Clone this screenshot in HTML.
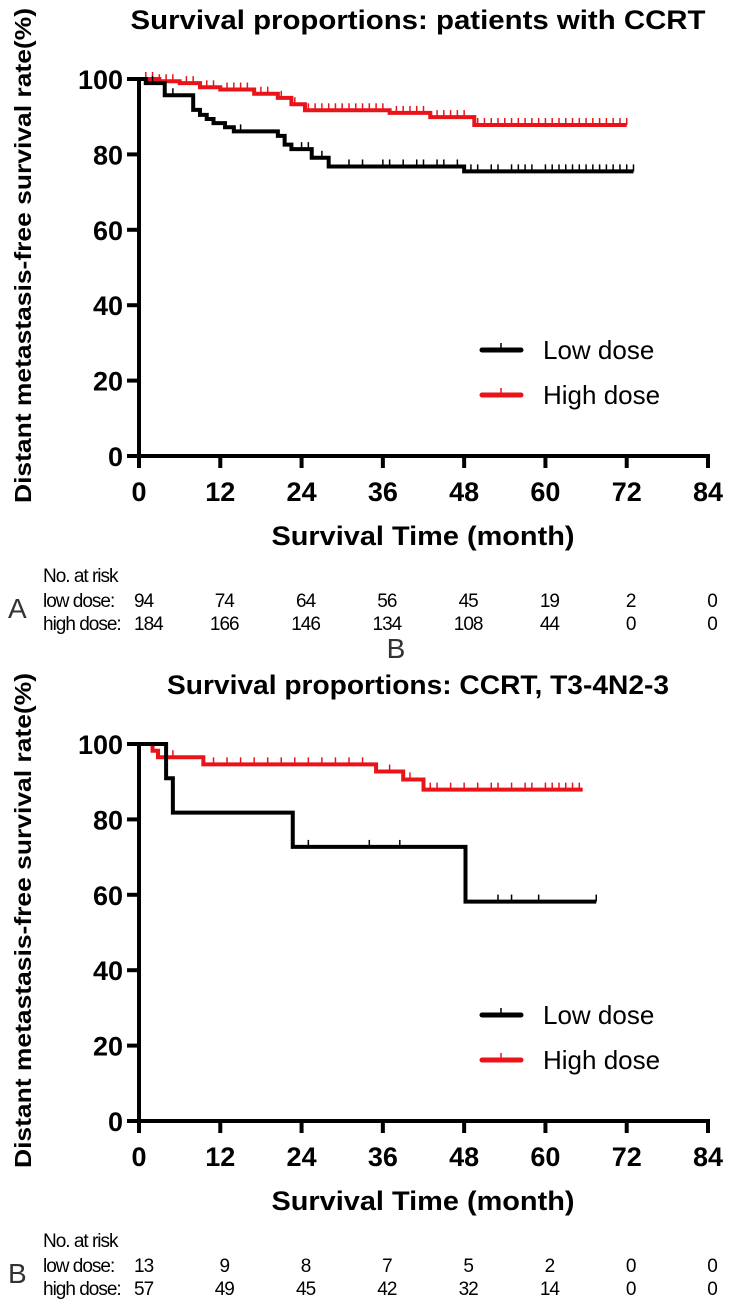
<!DOCTYPE html>
<html><head><meta charset="utf-8"><style>
html,body{margin:0;padding:0;background:#fff;}
svg{display:block;font-family:"Liberation Sans",Arial,sans-serif;}
</style></head><body>
<svg id="fig" width="729" height="1313" viewBox="0 0 729 1313"></svg>
<script>
// ---------- data ----------
const xTicks = [0,12,24,36,48,60,72,84];
const yTicks = [0,20,40,60,80,100];
// Panel A
const lowA_t = [0,1,3.8,8,9,10,11,12.7,14,20.5,21.5,22.5,25.5,28,48];
const lowA_s = [100,98.9,95.7,91.8,90.5,89.4,88.3,87.2,86.1,84.9,82.6,81.4,79.1,76.8,75.5];
const lowA_end = 73;
const lowA_cens = [2,5,15,24,25,27,31,33,36,37,39,41,42,44,45,47,49,50,52,53,55,56,57,58,60,61,62,63,64,65,66,67,68,69,70,71,72,73];
const highA_t = [0,3,6,9,12,17,20.5,22.5,24.5,37,43,49.5];
const highA_s = [100,99.4,98.9,97.8,97.2,96.1,95,93.3,91.7,91,89.9,87.8];
const highA_end = 72;
const highA_cens = [1,2,3,4,5,7,8,10,11,13,14,15,16,18,19,21,23,25,26,27,28,29,30,31,32,33,34,35,36,38,39,40,41,42,44,45,46,47,48,50,51,52,53,54,55,56,57,58,59,60,61,62,63,64,65,66,67,68,69,70,71,72];
const riskA_low = ["94","74","64","56","45","19","2","0"];
const riskA_high = ["184","166","146","134","108","44","0","0"];
// Panel B
const lowB_t = [0,4,5,22.7,48.2];
const lowB_s = [100,90.9,81.8,72.7,58.2];
const lowB_end = 67.5;
const lowB_cens = [25,34,38.5,53,55,59,67.5];
const highB_t = [0,2,2.8,9.5,35,39,42];
const highB_s = [100,98.2,96.5,94.6,92.7,90.6,87.9];
const highB_end = 65.5;
const highB_cens = [3,4,5,11,13,15,17,19,21,23,25,27,29,31,33,37,40,43,44,46,48,50,52,53,55,57,58,60,61,62,63,64,65];
const riskB_low = ["13","9","8","7","5","2","0","0"];
const riskB_high = ["57","49","45","42","32","14","0","0"];

const NS = "http://www.w3.org/2000/svg";
const svg = document.getElementById("fig");
function mk(tag, attrs, parent, txt){
  const e = document.createElementNS(NS, tag);
  for (const k in attrs) e.setAttribute(k, attrs[k]);
  if (txt !== undefined) e.textContent = txt;
  (parent||svg).appendChild(e);
  return e;
}

function panel(off, title, titleLen, xTitle, lowT, lowS, lowEnd, lowC, highT, highS, highEnd, highC, rLow, rHigh, letter, pname){
  const g = mk("g", {});
  
  
  const X0 = 139, X1 = 708, Y100 = 79 + off, Y0 = 456 + off;
  const sx = t => X0 + (t/84)*(X1-X0);
  const sy = v => Y0 - (v/100)*(Y0-Y100);

  const t1 = mk("text", {x:418, y:29+off, "text-anchor":"middle", "font-size":27, "font-weight":"bold", textLength:titleLen, lengthAdjust:"spacingAndGlyphs"}, g, title);
  
  

  const yt = mk("text", {transform:`translate(31,${(Y0+Y100)/2 - 12}) rotate(-90)`, "text-anchor":"middle", "font-size":23, "font-weight":"bold", textLength:495, lengthAdjust:"spacingAndGlyphs"}, g, "Distant metastasis-free survival rate(%)");
  
  

  const ax = mk("path", {d:`M${X0},${Y100-2} V${Y0} H${X1+2}`, stroke:"#000", "stroke-width":4, fill:"none"}, g);
  
  
  yTicks.forEach(v=>{
    const tk = mk("line", {x1:X0-12, x2:X0, y1:sy(v), y2:sy(v), stroke:"#000", "stroke-width":4}, g);
    
    
    const lb = mk("text", {x:X0-16, y:sy(v)+10, "text-anchor":"end", "font-size":27, "font-weight":"bold"}, g, String(v));
    
    
  });
  xTicks.forEach(v=>{
    const tk = mk("line", {x1:sx(v), x2:sx(v), y1:Y0, y2:Y0+12, stroke:"#000", "stroke-width":4}, g);
    
    
    const lb = mk("text", {x:sx(v), y:Y0+45, "text-anchor":"middle", "font-size":27, "font-weight":"bold"}, g, String(v));
    
    
  });
  const xt = mk("text", {x:423, y:Y0+89, "text-anchor":"middle", "font-size":27, "font-weight":"bold", textLength:303, lengthAdjust:"spacingAndGlyphs"}, g, xTitle);
  
  

  function curve(T, S, end, C, color, name){
    let d = `M${sx(T[0])},${sy(S[0])}`;
    for (let i=1;i<T.length;i++){ d += ` H${sx(T[i])} V${sy(S[i])}`; }
    d += ` H${sx(end)}`;
    const p = mk("path", {d, stroke:color, "stroke-width":4, fill:"none", "stroke-linejoin":"miter"}, g);
    
    
    C.forEach(c=>{
      let v = S[0];
      for (let i=0;i<T.length;i++) if (T[i] <= c) v = S[i];
      const m = mk("line", {x1:sx(c), x2:sx(c), y1:sy(v), y2:sy(v)-7, stroke:color, "stroke-width":1.5}, g);
      
      
    });
  }
  curve(highT, highS, highEnd, highC, "#e8141a", "high-dose-curve");
  curve(lowT, lowS, lowEnd, lowC, "#000", "low-dose-curve");

  const lg = mk("g", {}, g);
  
  
  [["Low dose","#000",350],["High dose","#e8141a",395]].forEach(([lab,col,yy])=>{
    const e = mk("g", {}, lg);
    
    
    mk("line", {x1:482, x2:521, y1:yy+off, y2:yy+off, stroke:col, "stroke-width":5, "stroke-linecap":"round"}, e);
    mk("line", {x1:501, x2:501, y1:yy+off, y2:yy+off-7, stroke:col, "stroke-width":1.5}, e);
    mk("text", {x:543, y:yy+off+9, "font-size":26}, e, lab);
  });

  const rt = mk("g", {"font-size":19, "letter-spacing":"-1"}, g);
  
  
  const rY = Y0 + 126;
  mk("text", {x:43, y:rY}, rt, "No. at risk");
  mk("text", {x:43, y:rY+25}, rt, "low  dose:");
  mk("text", {x:43, y:rY+48}, rt, "high dose:");
  const ltr = mk("text", {x:8, y:rY+36, "font-size":28, fill:"#333", "letter-spacing":"0"}, rt, letter);
  
  
  [rLow, rHigh].forEach((row, ri)=>{
    row.forEach((val, i)=>{
      const yy = rY + 25 + ri*23;
      if (i===0) mk("text", {x:134, y:yy}, rt, val);
      else mk("text", {x:sx(xTicks[i])+4, y:yy, "text-anchor":"middle"}, rt, val);
    });
  });
}

panel(0, "Survival proportions: patients with CCRT", 575, "Survival  Time (month)",
  lowA_t, lowA_s, lowA_end, lowA_cens, highA_t, highA_s, highA_end, highA_cens, riskA_low, riskA_high, "A", "panel-a");
panel(665, "Survival proportions: CCRT, T3-4N2-3", 502, "Survival Time (month)",
  lowB_t, lowB_s, lowB_end, lowB_cens, highB_t, highB_s, highB_end, highB_cens, riskB_low, riskB_high, "B", "panel-b");

const bl = mk("text", {x:396, y:658, "text-anchor":"middle", "font-size":28, fill:"#333"}, svg, "B");


</script>
</body></html>
